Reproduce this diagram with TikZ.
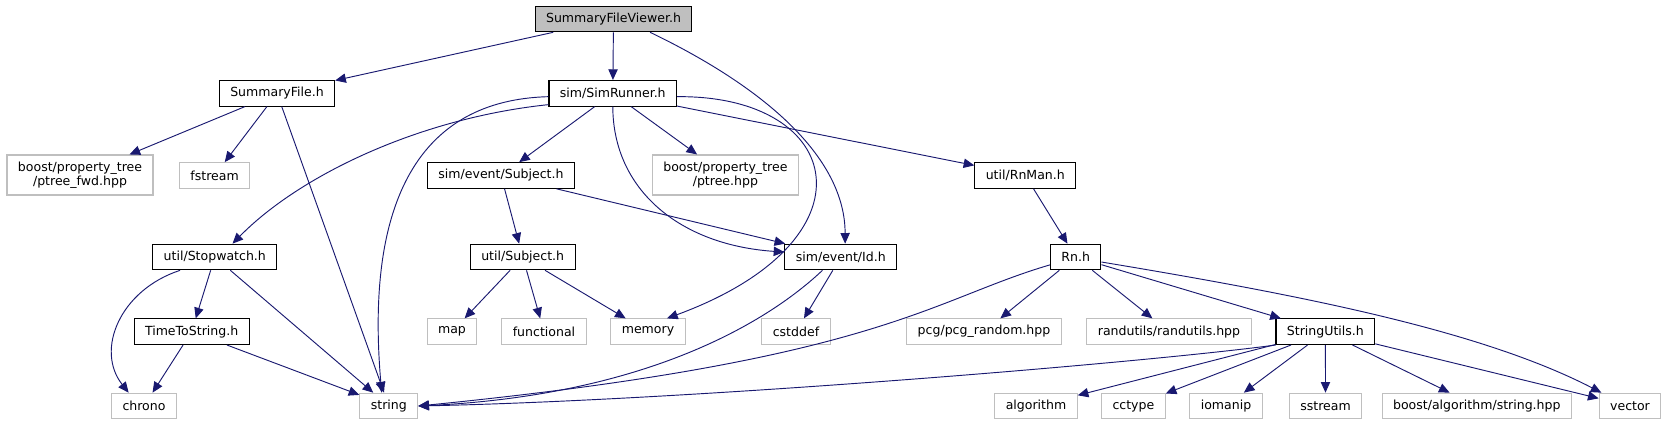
\documentclass[tikz,border=0pt]{standalone}
\usepackage{fontspec}
\setmainfont{DejaVu Sans}
\usetikzlibrary{
    arrows.meta,
    positioning
}
\definecolor{edgeblue}{RGB}{25,25,112}
\definecolor{sysgray}{RGB}{191,191,191}
\definecolor{rootgray}{RGB}{191,191,191}
\tikzset{
    % Project headers
    filebox/.style={
        rectangle,
        draw=black,
        line width=0.8pt,
        fill=white,
        inner xsep=8.2pt,
        inner ysep=0pt,
        minimum height=19.2pt,
        align=center,
        font=\fontsize{9.4}{10.8}\selectfont
    },
    rootbox/.style={
        filebox,
        fill=rootgray
    },
    % System headers
    sysbox/.style={
        filebox,
        draw=sysgray
    },
    twoline/.style={
        minimum height=30pt
    },
    % Arrows
    arrow/.style={
        -{Triangle[length=8pt,width=7pt]},
        line width=0.7pt,
        draw=edgeblue
    }
}
\begin{document}
\begin{tikzpicture}[x=0.75pt, y=-0.75pt]
    \useasboundingbox (0,0) rectangle (1670,425);

    % Root
    \node[rootbox] (viewer) at (613.5,19) {SummaryFileViewer.h};

    % Level 1
    \node[filebox] (summary) at (277,93.3) {SummaryFile.h};
    \node[filebox] (runner) at (612.8,93.3) {sim/SimRunner.h};

    % Level 2
    \node[sysbox, twoline] (ptreefwd) at (80,175) {boost/property\_tree\\/ptree\_fwd.hpp};
    \node[sysbox] (fstream) at (214.6,175.5) {fstream};
    \node[filebox] (esubject) at (501,175.5) {sim/event/Subject.h};
    \node[sysbox, twoline] (ptree) at (725.4,175) {boost/property\_tree\\/ptree.hpp};
    \node[filebox] (rnman) at (1025.3,175.5) {util/RnMan.h};

    % Level 3
    \node[filebox] (stopwatch) at (214.8,257) {util/Stopwatch.h};
    \node[filebox] (usubject) at (522.7,257) {util/Subject.h};
    \node[filebox] (eventid) at (840.8,257) {sim/event/Id.h};
    \node[filebox] (rn) at (1075.7,257) {Rn.h};

    % Level 4
    \node[filebox] (timestr) at (191.6,331.7) {TimeToString.h};
    \node[sysbox] (map) at (452,331.7) {map};
    \node[sysbox] (functional) at (544,331.7) {functional};
    \node[sysbox] (memory) at (648,331.7) {memory};
    \node[sysbox] (cstddef) at (796,331.7) {cstddef};
    \node[sysbox] (pcg) at (984,331.7) {pcg/pcg\_random.hpp};
    \node[sysbox] (randutils) at (1169,331.7) {randutils/randutils.hpp};
    \node[filebox] (strutils) at (1325.4,331.7) {StringUtils.h};

    % Level 5
    \node[sysbox] (chrono) at (144,406) {chrono};
    \node[sysbox] (string) at (388.8,406) {string};
    \node[sysbox] (algorithm) at (1036,406) {algorithm};
    \node[sysbox] (cctype) at (1133.4,406) {cctype};
    \node[sysbox] (iomanip) at (1226,406) {iomanip};
    \node[sysbox] (sstream) at (1325.5,406) {sstream};
    \node[sysbox] (boostalg) at (1476.8,406) {boost/algorithm/string.hpp};
    \node[sysbox] (vector) at (1630,406) {vector};

    % Arrows
    \draw[arrow] (viewer) -- (summary);
    \draw[arrow] (viewer) -- (runner);
    \draw[arrow] (viewer.-20) .. controls (770,90) and (845,160) .. (eventid.72);
    \draw[arrow] (summary) -- (ptreefwd);
    \draw[arrow] (summary) -- (fstream);
    \draw[arrow] (summary) -- (string);
    \draw[arrow] (runner.-170) .. controls (420,118) and (300,175) .. (stopwatch.37);
    \draw[arrow] (runner.-177) .. controls (420,100) and (365,200) .. (string.118);
    \draw[arrow] (runner) -- (esubject);
    \draw[arrow] (runner.south) .. controls (613,190) and (680,245) .. (eventid.175);
    \draw[arrow] (runner) -- (ptree);
    \draw[arrow] (runner.-3) .. controls (845,95) and (880,240) .. (memory.35);
    \draw[arrow] (runner) -- (rnman);
    \draw[arrow] (esubject) -- (usubject);
    \draw[arrow] (esubject) -- (eventid);
    \draw[arrow] (rnman) -- (rn);
    \draw[arrow] (stopwatch.-159) .. controls (120,290) and (95,350) .. (chrono.139);
    \draw[arrow] (stopwatch) -- (timestr);
    \draw[arrow] (stopwatch) -- (string);
    \draw[arrow] (timestr) -- (chrono);
    \draw[arrow] (timestr) -- (string);
    \draw[arrow] (usubject) -- (map);
    \draw[arrow] (usubject) -- (functional);
    \draw[arrow] (usubject) -- (memory);
    \draw[arrow] (eventid) -- (cstddef);
    \draw[arrow] (eventid.-144) .. controls (770,320) and (650,395) .. (string.east);
    \draw[arrow] (rn.-163) .. controls (930,300) and (880,360) .. (string.east);
    \draw[arrow] (rn) -- (pcg);
    \draw[arrow] (rn) -- (randutils);
    \draw[arrow] (rn) -- (strutils);
    \draw[arrow] (rn.-11) .. controls (1300,295) and (1480,330) .. (vector.155);
    \draw[arrow] (strutils.south west) .. controls (1150,362) and (700,400) .. (string.east);
    \draw[arrow] (strutils) -- (algorithm);
    \draw[arrow] (strutils) -- (cctype);
    \draw[arrow] (strutils) -- (iomanip);
    \draw[arrow] (strutils) -- (sstream);
    \draw[arrow] (strutils) -- (boostalg);
    \draw[arrow] (strutils) -- (vector);

\end{tikzpicture}
\end{document}
